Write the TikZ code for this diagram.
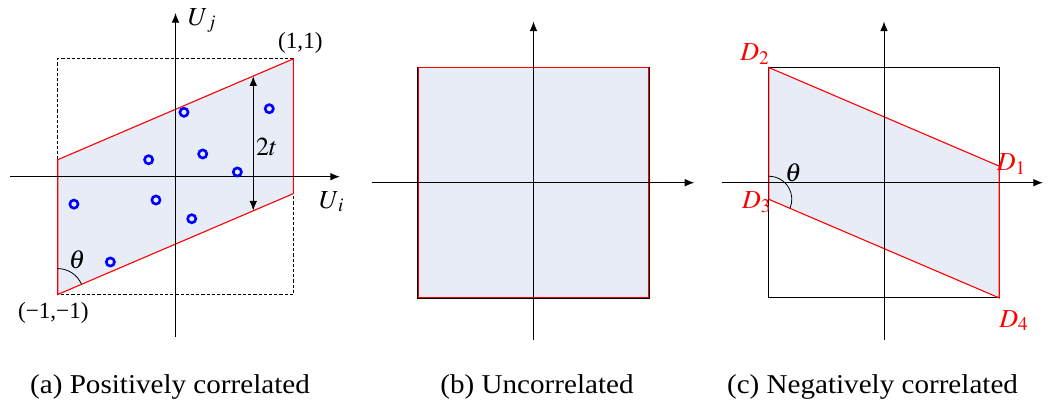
\documentclass[tikz,border=0pt]{standalone}
\usepackage{mathptmx}
\usepackage[no-math]{fontspec}
\setmainfont{Liberation Serif}
\usetikzlibrary{arrows.meta,calc}

\begin{document}
\begin{tikzpicture}[x=0.5pt, y=0.5pt, >={Latex[length=4.8pt,width=3.8pt]}, axis/.style={->, line width=0.5pt}, edge/.style={red, line width=0.55pt}, lbl/.style={font=\fontsize{13}{15}\selectfont}, coord/.style={font=\fontsize{11.6}{14}\selectfont}, subcap/.style={font=\fontsize{13.6}{16}\selectfont, xscale=1.07, transform shape}, sample/.style={blue, line width=1.3pt}]
\definecolor{Band}{HTML}{E7ECF6}
\useasboundingbox (0,0) rectangle (1050,408);
% (a) positively correlated
\begin{scope}[shift={(175.5,231.3)}, x=58.9pt, y=58.9pt]
\coordinate (a1) at (-1,-1); \coordinate (a2) at (1,-.144); \coordinate (a3) at (1,1); \coordinate (a4) at (-1,.144);
\fill[Band] (a1)--(a2)--(a3)--(a4)--cycle;
\draw[line width=0.4pt, dash pattern=on 1.6pt off 1pt] (a1) rectangle (a3);
\draw[edge] (a1)--(a2)--(a3)--(a4)--cycle;
\coordinate (aL) at (-1.405,0); \coordinate (aR) at (1.396,0); \coordinate (aB) at (0,-1.36); \coordinate (aT) at (0,1.39);
\draw[axis] (aL)--(aR); \draw[axis] (aB)--(aT);
\foreach \u/\v in {.072/.547, .796/.577, -.228/.144, .231/.193, .525/.04, -.862/-.233, -.166/-.198, .138/-.357, -.553/-.724}
  \draw[sample] (\u,\v) circle[radius=2.05pt];
\coordinate (t1) at (.66,.853); \coordinate (t2) at (.66,-.287);
\draw[<->, line width=0.5pt] (t1)--(t2);
\draw[line width=0.4pt] ($(a1)+(0,.22)$) arc[start angle=90, end angle=23.2, radius=.22];
\node[lbl] (twoT) at (.774,.255) {$2t$};
\node[lbl] (thA) at (-.834,-.707) {$\theta$};
\node[lbl] (Uj) at (.228,1.325) {$U_{\,j}$};
\node[lbl] (Ui) at (1.326,-.212) {$U_{\,i}$};
\node[coord] (pp) at (1.06,1.138) {(1,1)};
\node[coord] (mm) at (-1.037,-1.16) {(\char"2212 1,\char"2212 1)};
\end{scope}
% (b) uncorrelated
\begin{scope}[shift={(533.5,225.3)}, x=57.6pt, y=57.6pt]
\coordinate (b1) at (-1,-1); \coordinate (b3) at (1,1);
\fill[Band] (b1) rectangle (b3);
\draw[line width=0.9pt] (b1) rectangle (b3); \draw[edge, line width=0.45pt] (b1) rectangle (b3);
\coordinate (bL) at (-1.405,0); \coordinate (bR) at (1.396,0); \coordinate (bB) at (0,-1.365); \coordinate (bT) at (0,1.40);
\draw[axis] (bL)--(bR); \draw[axis] (bB)--(bT);
\end{scope}
% (c) negatively correlated
\begin{scope}[shift={(884,225.3)}, x=57.6pt, y=57.6pt]
\coordinate (D1) at (1,.144); \coordinate (D2) at (-1,1); \coordinate (D3) at (-1,-.144); \coordinate (D4) at (1,-1);
\fill[Band] (D2)--(D1)--(D4)--(D3)--cycle;
\draw[line width=0.45pt] (-1,-1) rectangle (1,1);
\draw[edge] (D2)--(D1)--(D4)--(D3)--cycle;
\coordinate (cL) at (-1.408,0); \coordinate (cR) at (1.38,0); \coordinate (cB) at (0,-1.365); \coordinate (cT) at (0,1.40);
\draw[axis] (cL)--(cR); \draw[axis] (cB)--(cT);
\draw[line width=0.4pt] ($(D3)+(0,.2)$) arc[start angle=90, end angle=-23.2, radius=.2];
\node[lbl] (thC) at (-.787,.087) {$\theta$};
\node[lbl, red] (lD1) at (1.107,.162) {$D_1$};
\node[lbl, red] (lD2) at (-1.119,1.116) {$D_2$};
\node[lbl, red] (lD3) at (-1.104,-.173) {$D_3$};
\node[lbl, red] (lD4) at (1.128,-1.197) {$D_4$};
\end{scope}
% captions
\node[subcap] (capA) at (170,21) {(a) Positively correlated};
\node[subcap] (capB) at (537,21) {(b) Uncorrelated};
\node[subcap] (capC) at (872.5,21) {(c) Negatively correlated};
\end{tikzpicture}
\end{document}
